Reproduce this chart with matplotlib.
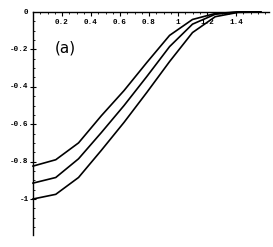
import numpy as np
import matplotlib
matplotlib.use("Agg")
import matplotlib.pyplot as plt
from matplotlib.ticker import MultipleLocator

x_vals = [0.0, 0.157, 0.314, 0.471, 0.628, 0.785, 0.942, 1.100, 1.257, 1.414, 1.571]
top_curve = [-0.824, -0.79, -0.70, -0.555, -0.42, -0.27, -0.125, -0.04, -0.008, 0.0, 0.0]
mid_curve = [-0.915, -0.885, -0.785, -0.645, -0.50, -0.345, -0.185, -0.065, -0.012, 0.0, 0.0]
bot_curve = [-1.0, -0.975, -0.885, -0.74, -0.59, -0.43, -0.265, -0.11, -0.025, -0.002, 0.0]

x_ticks = [0.2, 0.4, 0.6, 0.8, 1.0, 1.2, 1.4]
x_tick_labels = ["0.2", "0.4", "0.6", "0.8", "1", "1.2", "1.4"]
y_ticks = [0.0, -0.2, -0.4, -0.6, -0.8, -1.0]
y_tick_labels = ["0", "-0.2", "-0.4", "-0.6", "-0.8", "-1"]
panel_label = "(a)"

W, H = 273, 247
fig = plt.figure(figsize=(W / 100, H / 100), dpi=100)
x0_px, x_scale = 33, 145.0
y0_px, y_scale = 12, 187.0
xmax, ymin = 1.63, -1.19
left = x0_px / W
width = xmax * x_scale / W
top = 1 - y0_px / H
height = -ymin * y_scale / H
ax = fig.add_axes([left, top - height, width, height])
ax.set_xlim(0, xmax)
ax.set_ylim(ymin, 0)

for c in (top_curve, mid_curve, bot_curve):
    ax.plot(x_vals, c, color="black", lw=1.2, clip_on=False, solid_joinstyle="miter")

for s in ("right", "bottom"):
    ax.spines[s].set_visible(False)
ax.spines["top"].set_linewidth(1.0)
ax.spines["left"].set_linewidth(1.0)

mono = {"family": "Liberation Mono", "weight": "bold", "size": 5.5}
ax.xaxis.set_ticks_position("top")
ax.set_xticks(x_ticks)
ax.set_xticklabels([])
ax.xaxis.set_minor_locator(MultipleLocator(0.05))
ax.tick_params(axis="x", which="major", direction="in", length=3, width=0.8)
ax.tick_params(axis="x", which="minor", direction="in", length=1.5, width=0.6)
for xt, lab in zip(x_ticks, x_tick_labels):
    ax.text(xt, -0.055, lab, ha="center", va="center", fontdict=mono)

ax.set_yticks(y_ticks[1:])
ax.set_yticklabels([])
ax.yaxis.set_minor_locator(MultipleLocator(0.05))
ax.tick_params(axis="y", which="major", direction="inout", length=4, width=0.8)
ax.tick_params(axis="y", which="minor", direction="in", length=1.5, width=0.6)
for yt, lab in zip(y_ticks, y_tick_labels):
    ax.text(-0.03, yt, lab, ha="right", va="center", fontdict=mono)

ax.text(0.22, -0.19, panel_label, ha="center", va="center",
        fontsize=11, family="DejaVu Sans")

fig.savefig("out.png", dpi=100)
